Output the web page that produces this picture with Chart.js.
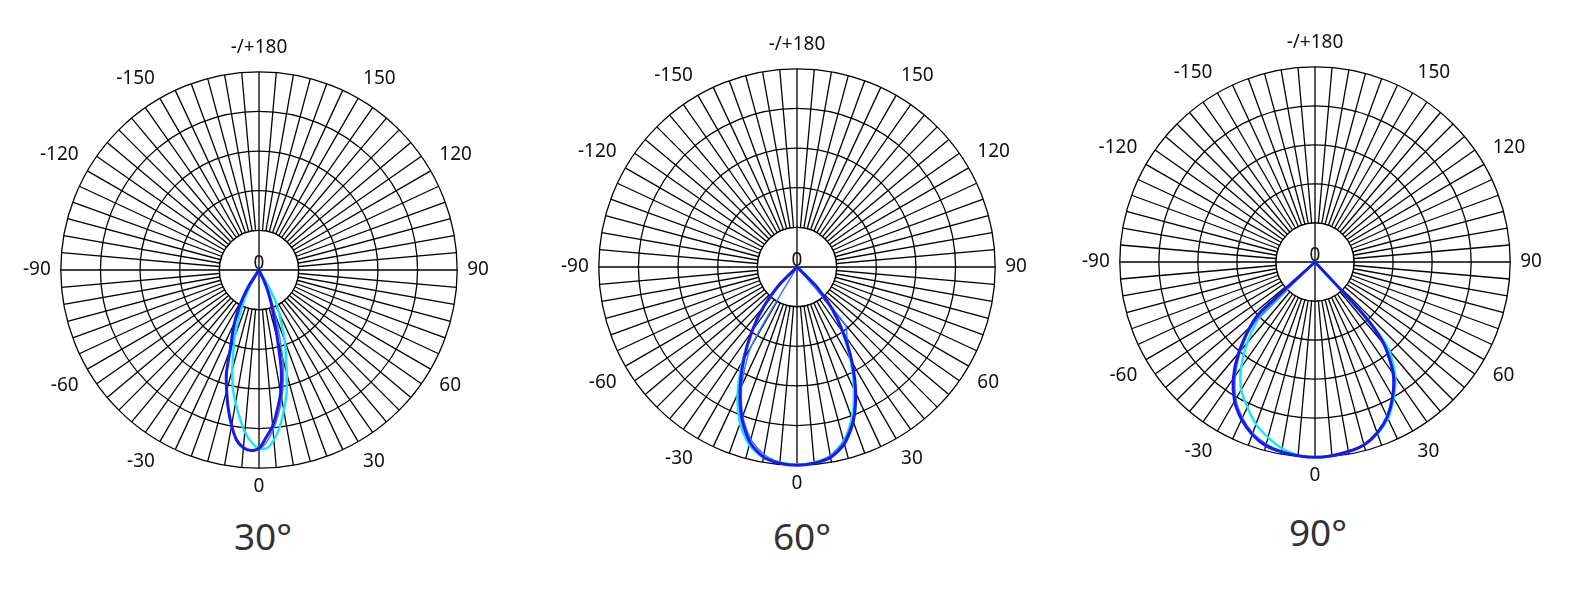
<!DOCTYPE html>
<html>
<head>
<meta charset="utf-8">
<script src="https://cdn.jsdelivr.net/npm/chart.js@4.4.0/dist/chart.umd.min.js"></script>
<style>
  html, body { margin: 0; padding: 0; background: #fff; }
  body { width: 1571px; height: 589px; position: relative; overflow: hidden; font-family: 'Noto Sans', sans-serif; }
  .caixa { position: absolute; }
  .titulo { position: absolute; width: 200px; text-align: center; font-size: 37px; line-height: 50px; color: #333; }
</style>
</head>
<body>
<div class="caixa" style="left:-11px;top:35px"><canvas id="g30" width="540" height="468"></canvas></div>
<div class="caixa" style="left:527px;top:31px"><canvas id="g60" width="540" height="469"></canvas></div>
<div class="caixa" style="left:1045px;top:30px"><canvas id="g90" width="540" height="462"></canvas></div>
<div class="titulo" style="left:163px;top:511px">30°</div>
<div class="titulo" style="left:702px;top:511px">60°</div>
<div class="titulo" style="left:1218px;top:507px">90°</div>
<script>
const passo = 2.5;
const rotulosAngulo = [0, -30, -60, -90, -120, -150, 180, 150, 120, 90, 60, 30];
const rotulosTexto = ['0', '-30', '-60', '-90', '-120', '-150', '-/+180', '150', '120', '90', '60', '30'];

// 30°
const ang30 = [-35, -32.5, -30, -27.5, -25, -22.5, -20, -17.5, -15, -12.5, -10, -7.5, -5, -2.5,
               0, 2.5, 5, 7.5, 10, 12.5, 15, 17.5, 20, 22.5, 25, 27.5, 30, 32.5];
const azul30 = [0, 0.5, 0.8, 1.15, 1.45, 1.75, 2.1, 2.74, 3.15, 3.58, 3.98, 4.33, 4.5, 4.56,
                4.5, 4.22, 3.95, 3.55, 3.15, 2.6, 1.8, 1.25, 0.9, 0.6, 0.3, 0, null, null];
const azulFino30 = [null, 0, 0.7, 1.1, 1.45, 1.8, 2.2, 2.7, 3.15, 3.6, 4.0, 4.3, 4.48, 4.55,
                    4.52, 4.35, 4.05, 3.7, 3.3, 2.85, 2.3, 1.7, 1.2, 0.75, 0, null, null, null];
const ciano30 = [null, 0, 0.35, 0.7, 1.0, 1.35, 1.8, 2.15, 2.6, 3.05, 3.4, 3.75, 4.1, 4.35,
                 4.5, 4.5, 4.3, 4.0, 3.6, 3.2, 2.7, 2.25, 1.9, 1.5, 1.2, 0.95, 0.5, 0];

// 60°
const ang60 = [-50, -45, -40, -35, -30, -25, -20, -15, -10, -5, 0, 5, 10, 15, 20, 25, 30, 35, 40, 45, 50];
const azul60 = [0, 0.65, 1.32, 1.98, 2.68, 3.4, 4.07, 4.58, 4.87, 4.97, 5.0, 4.97, 4.88, 4.62, 4.15, 3.5, 2.78, 2.05, 1.38, 0.7, 0];
const azulFino60 = [null, null, null, 0, 2.3, 3.3, 4.0, 4.5, 4.8, 4.95, 5.0, 4.95, 4.83, 4.55, 4.1, 3.45, 2.75, 2.2, 1.9, 0, null];
const ciano60 = [0, 0.6, 1.25, 1.95, 2.75, 3.55, 4.2, 4.65, 4.88, 4.95, 4.98, 4.95, 4.85, 4.55, 4.05, 3.4, 2.7, 2.0, 1.35, 0.7, 0];

// 90°
const ang90 = [-50, -47.5, -45, -40, -35, -30, -25, -20, -15, -10, -5, 0, 5, 10, 15, 20, 25, 30, 35, 40, 42.5, 45];
const azul90 = [0, 1.9, 2.35, 3.05, 3.65, 4.12, 4.45, 4.7, 4.87, 4.94, 4.98, 5.0, 4.98, 4.93, 4.85, 4.66, 4.38, 3.98, 3.5, 2.75, 1.9, 0];
const azulFino90 = [null, 0, 2.2, 2.95, 3.55, 4.05, 4.4, 4.66, 4.82, 4.92, 4.97, 5.0, 4.97, 4.92, 4.83, 4.64, 4.35, 3.95, 3.45, 2.7, 1.8, 0];
const ciano90 = [null, 0, 2.0, 2.7, 3.3, 3.78, 4.1, 4.42, 4.65, 4.85, 4.97, 5.0, 4.98, 4.93, 4.85, 4.68, 4.42, 4.03, 3.58, 2.95, 2.1, 0];

const nPontos = 360 / passo;
const rotulos = Array.from({ length: nPontos }, (_, i) => i < nPontos / 2 ? -i * passo : 360 - i * passo);

function indiceDoAngulo(a) {
    return Math.round((a <= 0 ? -a : 360 - a) / passo) % nPontos;
}

function montarSerie(angulos, valores) {
    const serie = new Array(nPontos).fill(null);
    angulos.forEach((a, k) => {
        if (valores[k] !== null) serie[indiceDoAngulo(a)] = valores[k];
    });
    return serie;
}

// miolo branco com a cruz e o "0" central
const miolo = {
    id: 'miolo',
    beforeDatasetsDraw(chart) {
        const s = chart.scales.r;
        const c = chart.ctx;
        const r1 = s.getDistanceFromCenterForValue(1);
        c.save();
        c.fillStyle = '#fff';
        c.strokeStyle = '#000';
        c.lineWidth = 1.3;
        c.beginPath();
        c.arc(s.xCenter, s.yCenter, r1, 0, 2 * Math.PI);
        c.fill();
        c.stroke();
        c.beginPath();
        c.moveTo(s.xCenter - r1, s.yCenter);
        c.lineTo(s.xCenter + r1, s.yCenter);
        c.moveTo(s.xCenter, s.yCenter - r1);
        c.lineTo(s.xCenter, s.yCenter + r1);
        c.stroke();
        c.fillStyle = '#111';
        c.font = '19px "Noto Sans"';
        c.textAlign = 'center';
        c.textBaseline = 'alphabetic';
        c.fillText('0', s.xCenter, s.yCenter - 1);
        c.restore();
    }
};

function criarGrafico(id, angulos, azul, azulFino, ciano) {
    const linha = (valores, cor, largura) => ({
        data: montarSerie(angulos, valores),
        borderColor: cor,
        borderWidth: largura,
        backgroundColor: 'transparent',
        fill: false,
        pointRadius: 0,
        spanGaps: true,
        tension: 0.25
    });

    new Chart(document.getElementById(id).getContext('2d'), {
        type: 'radar',
        data: {
            labels: rotulos,
            datasets: [
                linha(azul, '#1a1aee', 3),
                linha(azulFino, '#3a7bff', 1.5),
                linha(ciano, '#19e6f2', 2.5)
            ]
        },
        options: {
            responsive: false,
            animation: false,
            plugins: { legend: { display: false }, tooltip: { enabled: false } },
            scales: {
                r: {
                    min: 0,
                    max: 5,
                    startAngle: 180,
                    ticks: { display: false, stepSize: 1 },
                    grid: { circular: true, color: '#000', lineWidth: 1.3 },
                    angleLines: {
                        color: '#000',
                        lineWidth: (ctx) => ctx.index % 2 === 0 ? 1.3 : 0
                    },
                    pointLabels: {
                        padding: (ctx) => ctx.index === nPontos / 2 ? 13 : (ctx.index === 0 ? 7 : 10),
                        color: '#111',
                        font: { family: 'Noto Sans', size: 19 },
                        callback: (label) => {
                            const k = rotulosAngulo.indexOf(label);
                            return k >= 0 ? rotulosTexto[k] : '';
                        }
                    }
                }
            }
        },
        plugins: [miolo]
    });
}

criarGrafico('g30', ang30, azul30, azulFino30, ciano30);
criarGrafico('g60', ang60, azul60, azulFino60, ciano60);
criarGrafico('g90', ang90, azul90, azulFino90, ciano90);
</script>
</body>
</html>
